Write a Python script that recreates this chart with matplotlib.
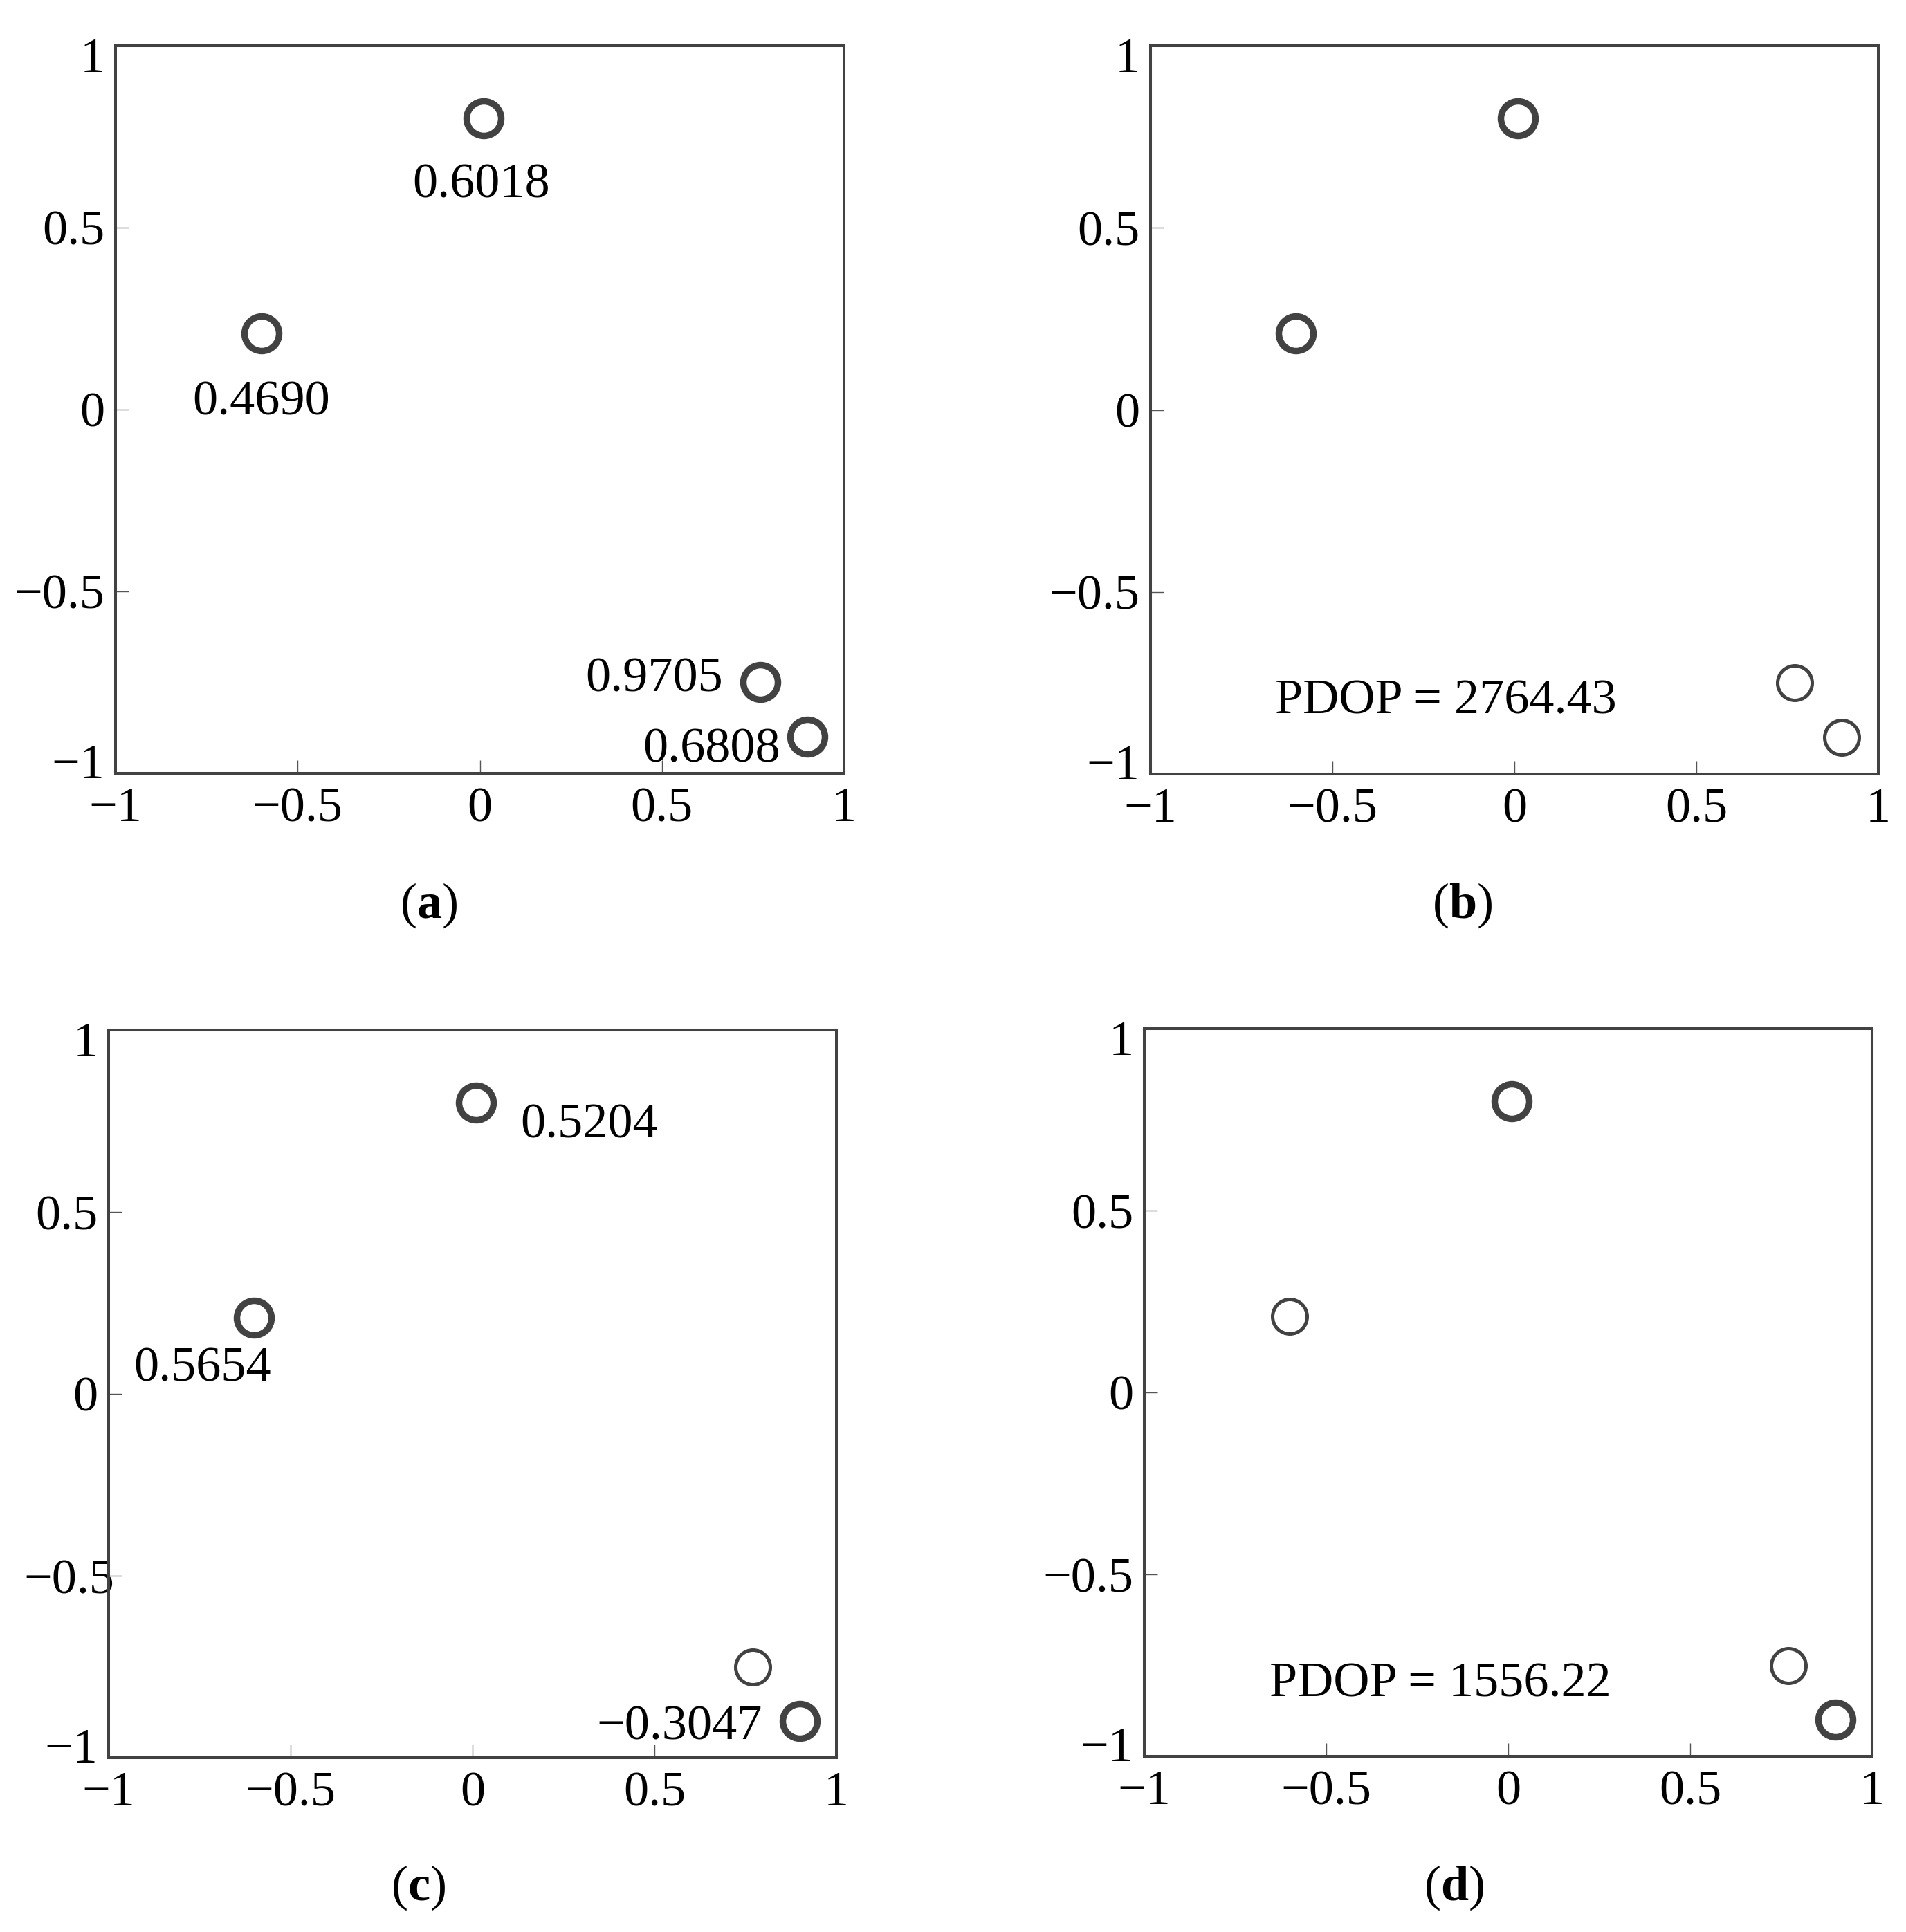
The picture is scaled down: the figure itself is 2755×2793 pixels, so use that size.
import numpy as np
import matplotlib
matplotlib.use("Agg")
import matplotlib.pyplot as plt
from matplotlib.transforms import ScaledTranslation

plt.rcParams["font.family"] = ["Liberation Serif", "DejaVu Serif"]
plt.rcParams["mathtext.fontset"] = "custom"
plt.rcParams["mathtext.rm"] = "Liberation Serif"
plt.rcParams["mathtext.bf"] = "Liberation Serif:bold"

# satellite positions (same in every panel)
sat_x = [0.01, -0.60, 0.77, 0.90]
sat_y = [0.80, 0.21, -0.75, -0.90]

# which satellites are drawn with a thick ring
thick_a = [1, 1, 1, 1]
thick_b = [1, 1, 0, 0]
thick_c = [1, 1, 0, 1]
thick_d = [1, 0, 0, 1]

labels_a = ["0.6018", "0.4690", "0.9705", "0.6808"]
labels_c = ["0.5204", "0.5654", "", "\u22120.3047"]

pdop_b = "PDOP = 2764.43"
pdop_d = "PDOP = 1556.22"

ticks = [-1, -0.5, 0, 0.5, 1]
tick_text = ["\u22121", "\u22120.5", "0", "0.5", "1"]

W, H = 2755, 2793
DPI = 100
fig = plt.figure(figsize=(W / DPI, H / DPI), dpi=DPI)

GRAY = "#424242"
FS = 52


def make_ax(left, top, right, bottom):
    ax = fig.add_axes([left / W, 1 - bottom / H, (right - left) / W, (bottom - top) / H])
    ax.set_xlim(-1, 1)
    ax.set_ylim(-1, 1)
    for s in ax.spines.values():
        s.set_linewidth(2.9)
        s.set_color(GRAY)
    ax.set_xticks(ticks)
    ax.set_yticks(ticks)
    ax.set_xticklabels(tick_text)
    ax.set_yticklabels(tick_text)
    ax.tick_params(direction="in", length=13.5, width=1.0, color="#555555",
                   labelsize=FS, top=False, right=False)
    ax.tick_params(axis="x", pad=14)
    ax.tick_params(axis="y", pad=11)
    yl = ax.get_yticklabels()
    yl[-1].set_transform(yl[-1].get_transform() + ScaledTranslation(0, -13 / DPI, fig.dpi_scale_trans))
    yl[0].set_transform(yl[0].get_transform() + ScaledTranslation(0, 18 / DPI, fig.dpi_scale_trans))
    return ax


def draw_sats(ax, thick):
    for x, y, t in zip(sat_x, sat_y, thick):
        ax.plot(x, y, "o", ms=36, mfc="none", mec=GRAY,
                mew=6.8 if t else 3.6, clip_on=False, zorder=5)


def put_labels(ax, texts, offsets, aligns):
    for x, y, t, off, ha in zip(sat_x, sat_y, texts, offsets, aligns):
        if not t:
            continue
        ax.annotate(t, (x, y), xytext=off, textcoords="offset pixels",
                    ha=ha, va="baseline", fontsize=FS, zorder=6)


ax_a = make_ax(167, 66, 1220, 1118)
draw_sats(ax_a, thick_a)
put_labels(ax_a, labels_a,
           [(-3, -114), (0, -118), (-54, -13), (-39, -36)],
           ["center", "center", "right", "right"])

ax_b = make_ax(1663, 66, 2715, 1119)
draw_sats(ax_b, thick_b)
ax_b.text(-0.658, -0.833, pdop_b, fontsize=FS, ha="left", va="baseline")

ax_c = make_ax(157, 1489, 1209, 2541)
draw_sats(ax_c, thick_c)
put_labels(ax_c, labels_c,
           [(64, -50), (24, -92), (0, 0), (-55, -26)],
           ["left", "right", "right", "right"])
# the -0.5 label in (c) sits over the axis line
yl = ax_c.get_yticklabels()
yl[1].set_transform(yl[1].get_transform() + ScaledTranslation(24 / DPI, 0, fig.dpi_scale_trans))

ax_d = make_ax(1654, 1487, 2706, 2539)
draw_sats(ax_d, thick_d)
ax_d.text(-0.656, -0.836, pdop_d, fontsize=FS, ha="left", va="baseline")

captions = ["a", "b", "c", "d"]
cap_pos = [(620, 1309), (2114, 1309), (605, 2729), (2102, 2729)]
for c, (px, py) in zip(captions, cap_pos):
    fig.text(px / W, 1 - py / H, "($\\mathbf{%s}$)" % c, fontsize=FS,
             ha="center", va="center")

fig.savefig("out.png", dpi=DPI)
